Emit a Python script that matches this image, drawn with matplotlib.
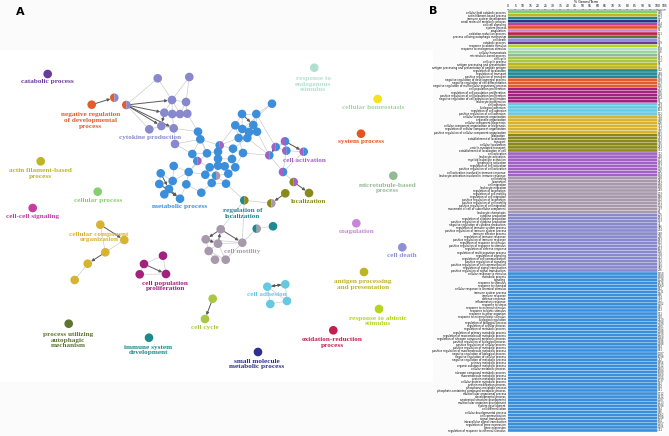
import matplotlib.pyplot as plt
from matplotlib.patches import Wedge, Rectangle

# ---------------- panel B: GO groups in bar order (top to bottom) ----------------
group_names = ['cellular process', 'actin filament-based process', 'immune system development',
               'small molecule metabolic process', 'cell-cell signaling', 'system process',
               'coagulation', 'oxidation-reduction process', 'process utilizing autophagic mechanism',
               'cell death', 'catabolic process', 'response to abiotic stimulus',
               'response to endogenous stimulus', 'cellular homeostasis', 'microtubule-based process',
               'cell cycle', 'antigen processing and presentation', 'regulation of localization',
               'negative regulation of developmental process', 'cell population proliferation',
               'cell adhesion', 'cellular component organization', 'localization', 'cell activation',
               'cell motility', 'cytokine production', 'metabolic process']

group_colors = ['#86cf6e', '#bdb523', '#1d8a8a', '#2f2f8f', '#c43e9e', '#e5531e', '#c687d8',
                '#c21f4f', '#5d7432', '#8d8fd9', '#683c9b', '#b5d51c', '#b2e0d0', '#9ad69c',
                '#92bb92', '#a8c843', '#bfb326', '#1f8890', '#e25d2c', '#a2207e', '#66c9e2',
                '#d6b432', '#8a8a1c', '#a262c4', '#a798ac', '#8888cc', '#3b8fda']

group_terms = [
    ['cellular lipid catabolic process'], ['actin filament-based process'],
    ['immune system development'], ['small molecule metabolic process'], ['cell-cell signaling'],
    ['system process'], ['coagulation'], ['oxidation-reduction process'],
    ['process utilizing autophagic mechanism'], ['cell death'], ['catabolic process'],
    ['response to abiotic stimulus'], ['response to endogenous stimulus'], ['cellular homeostasis'],
    ['microtubule-based process'],
    ['cell cycle', 'cell cycle process'],
    ['antigen processing and presentation', 'antigen processing and presentation of peptide antigen'],
    ['regulation of localization', 'regulation of transport', 'positive regulation of transport'],
    ['negative regulation of developmental process', 'negative regulation of cell differentiation',
     'negative regulation of multicellular organismal process'],
    ['cell population proliferation', 'regulation of cell population proliferation',
     'positive regulation of cell population proliferation',
     'negative regulation of cell population proliferation', 'leukocyte proliferation'],
    ['cell adhesion', 'biological adhesion', 'regulation of cell adhesion',
     'positive regulation of cell adhesion'],
    ['cellular component organization', 'organelle organization', 'cellular component biogenesis',
     'cellular component organization or biogenesis', 'regulation of cellular component organization',
     'positive regulation of cellular component organization'],
    ['localization', 'establishment of localization', 'transport', 'cellular localization',
     'vesicle-mediated transport', 'establishment of localization in cell'],
    ['cell activation', 'leukocyte activation', 'myeloid leukocyte activation', 'lymphocyte activation',
     'regulation of cell activation', 'positive regulation of cell activation',
     'cell activation involved in immune response', 'leukocyte activation involved in immune response'],
    ['cell motility', 'locomotion', 'cell migration', 'leukocyte migration', 'regulation of locomotion',
     'regulation of cell motility', 'regulation of cell migration', 'positive regulation of locomotion',
     'positive regulation of cell motility', 'positive regulation of cell migration',
     'movement of cell or subcellular component', 'leukocyte chemotaxis'],
    ['cytokine production', 'regulation of cytokine production', 'positive regulation of cytokine production',
     'negative regulation of cytokine production', 'regulation of immune system process',
     'positive regulation of immune system process', 'immune effector process',
     'regulation of immune response', 'positive regulation of immune response',
     'regulation of response to stimulus', 'positive regulation of response to stimulus',
     'regulation of defense response', 'regulation of multi-organism process', 'regulation of signaling',
     'regulation of cell communication', 'positive regulation of signaling',
     'positive regulation of cell communication', 'regulation of signal transduction',
     'positive regulation of signal transduction'],
    ['cellular response to stimulus', 'metabolic process', 'signaling', 'response to stimulus',
     'response to chemical', 'cellular response to chemical stimulus', 'immune system process',
     'immune response', 'defense response', 'inflammatory response', 'response to stress',
     'response to external stimulus', 'response to biotic stimulus', 'response to other organism',
     'response to external biotic stimulus', 'biological regulation', 'regulation of biological process',
     'regulation of cellular process', 'regulation of metabolic process',
     'regulation of primary metabolic process', 'regulation of macromolecule metabolic process',
     'regulation of nitrogen compound metabolic process', 'positive regulation of biological process',
     'positive regulation of cellular process', 'positive regulation of metabolic process',
     'positive regulation of macromolecule metabolic process', 'negative regulation of biological process',
     'negative regulation of cellular process', 'negative regulation of metabolic process',
     'primary metabolic process', 'organic substance metabolic process', 'cellular metabolic process',
     'nitrogen compound metabolic process', 'macromolecule metabolic process', 'protein metabolic process',
     'cellular protein metabolic process', 'protein modification process', 'phosphorus metabolic process',
     'phosphate-containing compound metabolic process', 'multicellular organismal process',
     'developmental process', 'anatomical structure development', 'multicellular organism development',
     'system development', 'cell differentiation', 'cellular developmental process', 'cell communication',
     'signal transduction', 'intracellular signal transduction', 'regulation of gene expression',
     'gene expression', 'regulation of response to external stimulus'],
]

group_genes = [
    [146], [209], [112], [88], [134], [176], [52], [121], [43], [97], [139], [74], [168], [156], [61],
    [187, 142], [58, 41], [302, 248, 167], [198, 173, 126], [231, 196, 138, 104, 87],
    [219, 224, 163, 112], [714, 498, 206, 731, 342, 215], [892, 743, 612, 395, 283, 351],
    [312, 248, 171, 189, 147, 118, 206, 194],
    [298, 281, 264, 158, 219, 203, 188, 142, 131, 124, 307, 96],
    [205, 181, 133, 71, 386, 274, 248, 236, 183, 612, 421, 163, 126, 438, 442, 301, 305, 389, 276],
    [1450, 1980, 1128, 1874, 1060, 812, 1231, 866, 734, 352, 1102, 845, 613, 571, 570, 2520, 2398,
     2287, 1402, 1288, 1329, 1268, 1496, 1388, 894, 833, 1187, 1098, 742, 1856, 1912, 1803, 1689,
     1560, 1104, 1037, 832, 544, 541, 1712, 1432, 1287, 1213, 1098, 874, 876, 1062, 1008, 604, 1157,
     1205, 331],
]
term_percent = 100.0   # every bar in the reference reaches 100 %

# ---------------- panel A: network layout (pixel positions) ----------------
# node: (x, y) or (x, y, second group for half-coloured nodes)
net_nodes = {
    'catabolic process': [(47.7, 74)],
    'response to endogenous stimulus': [(314.3, 67.7)],
    'cellular homeostasis': [(377.7, 99)],
    'system process': [(361, 133.7)],
    'actin filament-based process': [(40.7, 161.3)],
    'microtubule-based process': [(393.3, 175.7)],
    'cellular process': [(97.7, 191.7)],
    'cell-cell signaling': [(32.7, 208)],
    'coagulation': [(356.3, 223.3)],
    'cell death': [(402.3, 247.3)],
    'antigen processing and presentation': [(364, 272)],
    'response to abiotic stimulus': [(379, 309)],
    'oxidation-reduction process': [(333.3, 330.3)],
    'process utilizing autophagic mechanism': [(68.7, 323.7)],
    'immune system development': [(149, 337.7)],
    'small molecule metabolic process': [(258, 352)],
    'negative regulation of developmental process': [(91.7, 104.7), (114.3, 97.7, 'cytokine production'),
                                                     (126.3, 105, 'cytokine production')],
    'cytokine production': [(157.7, 78.3), (189.3, 77), (172, 100), (186, 102), (164.3, 112.7),
                            (172.3, 114), (180, 114), (187.3, 113.7), (149.3, 129.3), (161.3, 126),
                            (173.7, 128.3), (175, 144)],
    'metabolic process': [(272, 103.7), (242, 114), (256.3, 114), (235.3, 125.3), (253.3, 125),
                          (242.3, 129), (249, 132), (257, 131.7), (238.7, 138), (247.3, 138),
                          (198, 131.7), (200.3, 139.3), (219.7, 145.3, 'cell activation'), (233, 148.7),
                          (243, 153), (192.3, 154), (207, 153.3), (218, 151.7), (218, 158.7), (232, 159),
                          (197.3, 161, 'cell activation'), (209.7, 167.3), (218, 165.7), (224.7, 166.3),
                          (235.3, 167.3), (173.7, 166), (188.7, 172), (205.3, 174.7),
                          (216, 175.7, 'cell motility'), (228.3, 173.7), (160.7, 173.3), (172.7, 181),
                          (211.7, 183), (226, 183.7), (159.3, 184), (186.3, 184.3), (169, 189),
                          (164.3, 194.3), (180, 198.7), (201.3, 192.7)],
    'cell activation': [(285, 141.3, 'metabolic process'), (275.7, 147, 'metabolic process'),
                        (286.3, 150.7, 'metabolic process'), (269.3, 155.3, 'metabolic process'),
                        (303.7, 151.7, 'metabolic process'), (283, 172, 'metabolic process')],
    'localization': [(293.7, 182, 'cell activation'), (285.3, 193.3), (309, 193),
                     (271.3, 203.3, 'cell motility')],
    'regulation of localization': [(244.3, 200.3, 'localization'), (256.7, 228.7, 'cell motility'),
                                   (273, 226.3)],
    'cell motility': [(220.7, 229.3), (205.7, 239.3), (218, 243.7), (242.3, 242.7), (208.7, 251),
                      (215, 259.7), (225.7, 259.7)],
    'cellular component organization': [(100.3, 224.7), (124.3, 240), (105.3, 252.3), (87.7, 263.7),
                                        (74.7, 280)],
    'cell population proliferation': [(163, 255.7), (144, 264), (139.7, 274.3), (166, 274)],
    'cell adhesion': [(267.3, 286.7), (285.3, 284.3), (270.3, 304), (287, 301)],
    'cell cycle': [(212.7, 298.7), (205, 319)],
}
node_color_override = {'cellular homeostasis': '#f4e21c'}

M, CY, CA = 'metabolic process', 'cytokine production', 'cell activation'
NR, LO, RL = 'negative regulation of developmental process', 'localization', 'regulation of localization'
MO, CO, PP = 'cell motility', 'cellular component organization', 'cell population proliferation'
AD, CC = 'cell adhesion', 'cell cycle'

light_edges = [((M, a), (M, b)) for a, b in [
    (0, 5), (1, 2), (1, 3), (1, 5), (2, 4), (2, 7), (3, 5), (4, 5), (4, 6), (5, 6), (6, 7), (5, 8),
    (6, 9), (8, 9), (3, 8), (7, 9), (10, 11), (11, 12), (11, 16), (12, 13), (12, 17), (13, 14),
    (13, 19), (16, 17), (17, 18), (18, 19), (18, 22), (19, 23), (15, 16), (15, 20), (20, 21),
    (21, 22), (22, 23), (23, 24), (21, 27), (22, 28), (27, 28), (28, 29), (23, 29), (27, 32),
    (28, 33), (32, 33), (26, 27), (26, 35), (25, 26), (25, 31), (30, 31), (30, 34), (31, 34),
    (31, 36), (34, 36), (36, 38), (35, 38), (35, 39), (32, 39), (26, 31), (9, 13), (8, 14),
    (14, 24), (8, 12), (3, 12), (10, 16), (16, 26), (20, 26), (24, 29), (19, 24), (11, 15)]]
light_edges += [((CY, a), (CY, b)) for a, b in [
    (0, 2), (1, 2), (1, 3), (2, 3), (2, 4), (2, 5), (2, 6), (3, 6), (3, 7), (4, 5), (5, 6), (6, 7),
    (4, 6), (5, 7), (9, 10), (5, 10), (4, 9), (10, 11), (8, 9)]]
light_edges += [((CA, a), (CA, b)) for a, b in [
    (0, 1), (0, 2), (0, 4), (1, 2), (1, 3), (2, 4), (3, 5), (4, 5), (2, 5), (0, 3)]]
light_edges += [((CY, 10), (M, 10)), ((CY, 11), (M, 11)), ((CY, 7), (M, 10)), ((CY, 11), (M, 15)),
                ((CA, 3), (M, 7)), ((CA, 3), (M, 9)), ((CA, 1), (M, 2)), ((CA, 3), (M, 14)),
                ((CA, 5), (LO, 0)), ((LO, 3), (RL, 0)), ((RL, 0), (M, 33)), ((MO, 0), (RL, 0)),
                ((MO, 3), (RL, 1)), ((RL, 0), (MO, 3)), ((RL, 1), (RL, 2)), ((M, 0), (M, 2)),
                ((MO, 1), (MO, 3)), ((MO, 1), (MO, 4)), ((MO, 2), (MO, 4)), ((MO, 4), (MO, 5)),
                ((MO, 2), (MO, 6)), ((MO, 3), (MO, 6)), ((MO, 4), (MO, 6)), ((MO, 2), (MO, 3)),
                ((CO, 1), (CO, 2)), ((CO, 0), (CO, 2)), ((CO, 3), (CO, 4)),
                ((PP, 0), (PP, 1)), ((PP, 0), (PP, 3)), ((PP, 1), (PP, 2)), ((PP, 2), (PP, 3)),
                ((AD, 0), (AD, 2)), ((AD, 1), (AD, 3)), ((AD, 2), (AD, 3)), ((AD, 0), (AD, 3)),
                ((NR, 2), (CY, 8)), ((NR, 2), (CY, 0))]
dark_edges = [((NR, 0), (NR, 1)), ((NR, 2), (CY, 2)), ((NR, 2), (CY, 4)), ((NR, 2), (CY, 9)),
              ((NR, 2), (CY, 10)), ((CY, 4), (CY, 9)), ((M, 1), (M, 4)), ((M, 34), (M, 38)),
              ((M, 30), (M, 36)), ((M, 36), (M, 38)), ((CA, 1), (CA, 3)), ((CA, 0), (CA, 4)),
              ((LO, 0), (LO, 2)), ((MO, 0), (MO, 1)), ((MO, 1), (MO, 2)), ((MO, 2), (MO, 0)),
              ((MO, 0), (MO, 3)), ((CO, 0), (CO, 1)), ((CO, 2), (CO, 3)), ((PP, 1), (PP, 3)),
              ((AD, 0), (AD, 1)), ((AD, 1), (AD, 0)), ((CC, 0), (CC, 1)), ((LO, 1), (LO, 3))]

net_labels = {
    'catabolic process': ('catabolic process', 47.7, 82),
    NR: ('negative regulation\nof developmental\nprocess', 90.7, 120.5),
    CY: ('cytokine production', 149.7, 137.3),
    'response to endogenous stimulus': ('response to\nendogenous\nstimulus', 313, 84.3),
    'cellular homeostasis': ('cellular homeostasis', 373, 107),
    'system process': ('system process', 361, 141.7),
    M: ('metabolic process', 180, 206.7),
    CA: ('cell activation', 304, 160),
    'actin filament-based process': ('actin filament-based\nprocess', 40, 173.5),
    'microtubule-based process': ('microtubule-based\nprocess', 387.3, 188),
    'cellular process': ('cellular process', 97.7, 200),
    'cell-cell signaling': ('cell-cell signaling', 32.7, 216),
    LO: ('localization', 309, 201),
    RL: ('regulation of\nlocalization', 243, 213.3),
    CO: ('cellular component\norganization', 99, 237),
    MO: ('cell motility', 242, 251),
    'coagulation': ('coagulation', 356.3, 231.3),
    'cell death': ('cell death', 402.3, 255),
    PP: ('cell population\nproliferation', 165.3, 286),
    'antigen processing and presentation': ('antigen processing\nand presentation', 363, 284.5),
    AD: ('cell adhesion', 267, 294.7),
    CC: ('cell cycle', 205, 327),
    'response to abiotic stimulus': ('response to abiotic\nstimulus', 378, 321),
    'oxidation-reduction process': ('oxidation-reduction\nprocess', 332.3, 342.7),
    'process utilizing autophagic mechanism': ('process utilizing\nautophagic\nmechanism', 68, 340),
    'immune system development': ('immune system\ndevelopment', 148, 350),
    'small molecule metabolic process': ('small molecule\nmetabolic process', 257, 364),
}

color_of = dict(zip(group_names, group_colors))

W, H = 669, 436
fig = plt.figure(figsize=(W / 100, H / 100), dpi=100)
fig.patch.set_facecolor('#fbfbfb')

# ---- panel A
axA = fig.add_axes([0, 0, 433 / W, 1])
axA.set_xlim(0, 433)
axA.set_ylim(H, 0)
axA.axis('off')
axA.add_patch(Rectangle((0, 50), 433, 332, facecolor='white', edgecolor='none', zorder=0))


def pos(key):
    g, i = key
    return net_nodes[g][i][0], net_nodes[g][i][1]


for a, b in light_edges:
    (x1, y1), (x2, y2) = pos(a), pos(b)
    axA.plot([x1, x2], [y1, y2], color='#c8c8c8', lw=0.45, zorder=1)
for a, b in dark_edges:
    axA.annotate('', xy=pos(b), xytext=pos(a), zorder=2,
                 arrowprops=dict(arrowstyle='-|>', color='#5a5a5a', lw=0.7,
                                 mutation_scale=4, shrinkA=2, shrinkB=3))

r = 4.3
for g, pts in net_nodes.items():
    c1 = node_color_override.get(g, color_of[g])
    for p in pts:
        if len(p) == 3:
            axA.add_patch(Wedge((p[0], p[1]), r, 90, 270, facecolor=c1, edgecolor='none', zorder=3))
            axA.add_patch(Wedge((p[0], p[1]), r, 270, 90, facecolor=color_of[p[2]], edgecolor='none', zorder=3))
        else:
            axA.add_patch(Wedge((p[0], p[1]), r, 0, 360, facecolor=c1, edgecolor='none', zorder=3))

label_color_override = {'cellular homeostasis': '#9fd7a4'}
for g, (txt, x, y) in net_labels.items():
    axA.text(x, y, txt, ha='center', va='center', fontsize=5.2, fontweight='bold',
             family='Liberation Serif', color=label_color_override.get(g, color_of[g]),
             linespacing=1.15, zorder=4)

fig.text(20 / W, 1 - 12 / H, 'A', fontsize=8, fontweight='bold', ha='center', va='center')
fig.text(432.7 / W, 1 - 11 / H, 'B', fontsize=8, fontweight='bold', ha='center', va='center')

# ---- panel B
labels, colors, genes = [], [], []
for terms, col, gn in zip(group_terms, group_colors, group_genes):
    labels += terms
    colors += [col] * len(terms)
    genes += gn
n = len(labels)

left, right = 508, 664.8
top, bottom = 10.5, 432
axB = fig.add_axes([left / W, 1 - bottom / H, (right - left) / W, (bottom - top) / H])
ypos = list(range(n))
bars = axB.barh(ypos, [term_percent] * n, height=0.87, color=colors, edgecolor='none')
for b in bars:
    b.set_snap(False)
for y, g in zip(ypos, genes):
    axB.text(term_percent + 0.4, y, str(g), fontsize=1.9, va='center', ha='left', color='#333333')
axB.set_ylim(n - 0.5, -0.5)
axB.set_xlim(0, 105)
axB.set_yticks(ypos)
axB.set_yticklabels(labels, fontsize=1.9)
axB.tick_params(axis='y', length=0, pad=1.5)
axB.xaxis.tick_top()
axB.xaxis.set_label_position('top')
axB.set_xticks(range(0, 106, 5))
axB.tick_params(axis='x', labelsize=2.2, length=1, width=0.3, pad=0.5)
axB.set_xlabel('% Genes/Term', fontsize=2.4, labelpad=0.8)
for s in axB.spines.values():
    s.set_visible(False)
axB.spines['top'].set_visible(True)
axB.spines['top'].set_linewidth(0.3)
axB.set_facecolor('white')

fig.savefig('out.png', dpi=100, facecolor=fig.get_facecolor())
